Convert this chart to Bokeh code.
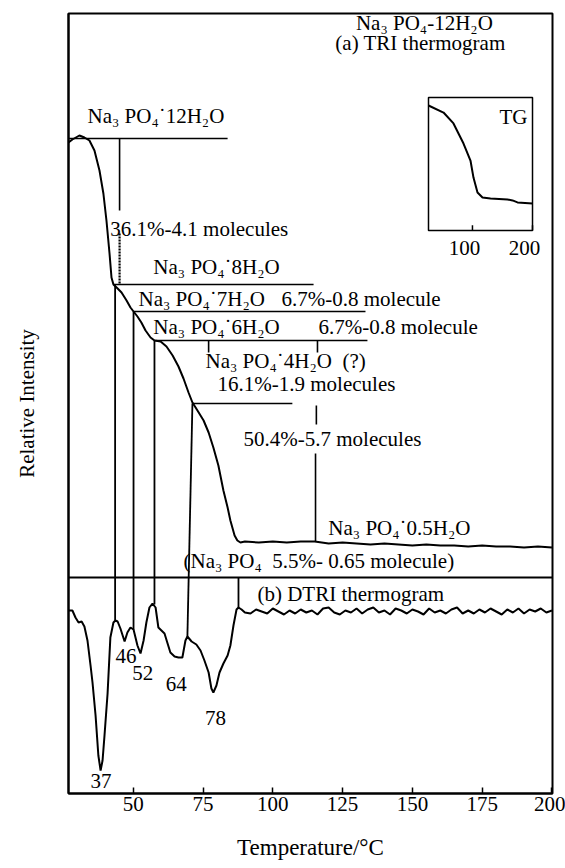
from bokeh.plotting import figure
from bokeh.models import Range1d, FixedTicker, Span
from bokeh.core.properties import value
from bokeh.embed import file_html
from bokeh.resources import INLINE

# ---------------- data ----------------
# (a) TRI thermogram
tri_temp = [26.8, 28.2, 30.7, 32.5, 34.3, 36.1, 37.9, 39.3, 40.4, 41.5, 42.2, 42.9,
            44.4, 45.8, 47.6, 49.0, 50.1, 51.5, 52.9, 54.4, 56.2, 57.6, 59.8, 61.9,
            64.1, 66.2, 68.0, 69.8, 71.2, 73.0, 75.2, 77.0, 78.7, 80.5, 82.3, 83.8,
            84.8, 86.3, 87.3, 88.4,
            90, 95, 100, 105, 110, 115, 120, 125, 130, 135, 140, 145, 150, 155, 160,
            165, 170, 175, 180, 185, 190, 195, 200]
tri_int = [651, 654, 658, 656, 653, 643, 623, 600, 573, 540, 516, 509,
           505, 501, 493, 486, 482, 477, 471, 463, 456, 453, 452, 447,
           438, 427, 415, 401, 391, 383, 373, 361, 346, 328, 303, 286,
           273, 258, 253, 251,
           252, 251, 252, 251, 252, 252, 250, 251, 250, 249, 250, 249, 248, 249, 248,
           248, 247, 248, 247, 247, 246, 247, 246]

# (b) DTRI thermogram
dtri_temp = [26.8, 28.2, 29.3, 30.4, 31.5, 32.5, 33.6, 34.7, 35.4, 36.5, 37.5, 38.3,
             39.0, 39.7, 40.8, 41.8, 42.9, 43.6, 44.4, 45.4, 46.9, 47.9, 49.0, 50.1,
             51.5, 52.6, 53.7, 54.7, 55.8, 56.9, 58.0, 59.0, 60.1, 61.2, 62.3, 63.3,
             64.8, 66.2, 67.6, 68.7, 69.4, 70.9, 72.6, 74.1, 75.5, 77.0, 78.0, 78.7,
             79.8, 80.9, 82.3, 83.8, 84.8, 85.9, 87.0, 87.7, 88.8,
             90, 92, 94, 96, 98, 100, 102, 104, 106, 108, 110, 112, 114, 116, 118,
             120, 122, 124, 126, 128, 130, 132, 134, 136, 138, 140, 142, 144, 146,
             148, 150, 152, 154, 156, 158, 160, 162, 164, 166, 168, 170, 172, 174,
             176, 178, 180, 182, 184, 186, 188, 190, 192, 194, 196, 198, 200]
dtri_int = [183, 183, 176, 171, 172, 167, 153, 128, 111, 78, 38, 23,
            33, 58, 100, 156, 171, 173, 172, 165, 152, 161, 166, 164,
            148, 140, 153, 171, 186, 190, 186, 166, 163, 160, 150, 141,
            137, 136, 136, 153, 157, 152, 149, 143, 133, 121, 105, 101,
            108, 121, 130, 138, 148, 168, 184, 186, 184,
            181, 180, 184, 182, 180, 185, 182, 179, 183, 180, 184, 181, 183, 179, 185,
            186, 181, 179, 183, 181, 185, 180, 184, 186, 181, 183, 179, 185, 183,
            180, 184, 182, 179, 185, 181, 183, 180, 184, 186, 180, 183, 180, 184,
            181, 185, 182, 179, 184, 181, 185, 180, 184, 182, 185, 181, 183]

# TG inset
tg_temp = [26.8, 51.8, 68.4, 85.1, 96.7, 101.7, 108.4, 116.7, 130.1, 158.4, 166.7, 175.0, 200.0]
tg_mass = [94.0, 88.7, 80.5, 65.4, 52.6, 39.8, 28.6, 24.8, 24.1, 23.3, 22.6, 21.1, 20.3]

x_ticks = [50, 75, 100, 125, 150, 175, 200]
tg_ticks = [100, 200]
tg_tick_labels = ["100", "200"]

# DTRI peak temperatures and label heights
peak_temps = [37, 46, 52, 64, 78]
peak_labels = ["37", "46", "52", "64", "78"]
peak_label_y = [13, 138, 121, 110, 76]

# hydrate stage lines (start T, end T, level)
stage_start = [26.8, 42.9, 50.1, 57.6, 71.2]
stage_end = [83.8, 114.6, 133.2, 133.9, 107.0]
stage_y = [655, 509, 482, 453, 390]

# drop lines from TRI steps to DTRI
drop_x0 = [43.5, 50.1, 57.6, 71.2, 87.7]
drop_y0 = [509, 482, 453, 390, 216]
drop_x1 = [43.5, 50.1, 57.6, 69.4, 87.7]
drop_y1 = [173, 164, 189, 157, 186]

# marker ticks
mark_x = [45.1, 77.0, 116.0, 115.6, 115.3]
mark_y0 = [655, 453, 453, 388, 340]
mark_y1 = [583, 441, 441, 369, 252]
dot_x = [45.1]
dot_y0 = [560]
dot_y1 = [509]

separator_y = 216

nb = "\u00a0"
ann_text = ["Na₃ PO₄˙12H₂O", "36.1%-4.1 molecules", "Na₃ PO₄˙8H₂O",
            "Na₃ PO₄˙7H₂O", "6.7%-0.8 molecule", "Na₃ PO₄˙6H₂O",
            "6.7%-0.8 molecule", "Na₃ PO₄˙4H₂O" + nb + nb + "(?)",
            "16.1%-1.9 molecules", "50.4%-5.7 molecules", "Na₃ PO₄˙0.5H₂O",
            "(Na₃ PO₄" + nb + nb + "5.5%- 0.65 molecule)", "(b) DTRI thermogram"]
ann_x = [33.6, 41.8, 57.2, 51.9, 103.1, 57.2, 116.4, 75.9, 80.2, 89.5, 119.9, 68.0, 94.5]
ann_y = [678, 565, 527, 495, 495, 467, 467, 433, 410, 355, 266, 233, 200]

title_text = ["Na₃ PO₄-12H₂O", "(a) TRI thermogram"]
title_x = [154.3, 152.9]
title_y = [771, 751]

# ---------------- figure ----------------
FONT = value("Liberation Serif")
FS = "21px"

p = figure(width=565, height=868, output_backend="svg", toolbar_location=None,
           x_range=Range1d(26.8, 200.2), y_range=Range1d(0, 780),
           min_border_left=68, min_border_right=13, min_border_top=13, min_border_bottom=75)
p.xgrid.visible = False
p.ygrid.visible = False
p.outline_line_color = "black"
p.outline_line_width = 2
p.background_fill_color = "white"
p.border_fill_color = "white"


def inset_range(lo, hi, f0, f1):
    span = (hi - lo) / (f1 - f0)
    start = lo - f0 * span
    return Range1d(start, start + span)


p.extra_x_ranges = {"tg_x": inset_range(26.8, 200.0, 0.7438, 0.9587)}
p.extra_y_ranges = {"tg_y": inset_range(0, 100, 0.7218, 0.8923)}

# axes
xa = p.xaxis[0]
xa.ticker = FixedTicker(ticks=x_ticks)
xa.minor_tick_line_color = None
xa.major_tick_in = 6
xa.major_tick_out = 0
xa.major_tick_line_width = 1.5
xa.axis_line_width = 2
xa.major_label_standoff = 3
xa.major_label_text_font = "Liberation Serif"
xa.major_label_text_font_size = FS
xa.major_label_text_color = "black"
xa.axis_label = "Temperature/°C"
xa.axis_label_text_font = "Liberation Serif"
xa.axis_label_text_font_size = "23px"
xa.axis_label_text_font_style = "normal"
xa.axis_label_text_color = "black"
xa.axis_label_standoff = 21

ya = p.yaxis[0]
ya.ticker = FixedTicker(ticks=[])
ya.minor_tick_line_color = None
ya.major_tick_in = 0
ya.major_tick_out = 0
ya.major_label_standoff = 0
ya.axis_line_width = 2
ya.axis_label = "Relative Intensity"
ya.axis_label_text_font = "Liberation Serif"
ya.axis_label_text_font_size = FS
ya.axis_label_text_font_style = "normal"
ya.axis_label_text_color = "black"
ya.axis_label_standoff = 30

# curves
p.line(tri_temp, tri_int, line_color="black", line_width=2)
p.line(dtri_temp, dtri_int, line_color="black", line_width=2)

# separator
p.add_layout(Span(location=separator_y, dimension="width", line_color="black", line_width=2))

# stage lines
p.segment(x0=stage_start, y0=stage_y, x1=stage_end, y1=stage_y, line_color="black", line_width=1.6)
# drop lines
p.segment(x0=drop_x0, y0=drop_y0, x1=drop_x1, y1=drop_y1, line_color="black", line_width=1.8)
# marker ticks
p.segment(x0=mark_x, y0=mark_y0, x1=mark_x, y1=mark_y1, line_color="black", line_width=1.6)
p.segment(x0=dot_x, y0=dot_y0, x1=dot_x, y1=dot_y1, line_color="black", line_width=2.2,
          line_dash="2 1")

# annotations
p.text(x=ann_x, y=ann_y, text=ann_text, text_font=FONT, text_font_size=FS,
       text_align="left", text_baseline="middle", text_color="black")
p.text(x=title_x, y=title_y, text=title_text, text_font=FONT, text_font_size=FS,
       text_align="center", text_baseline="middle", text_color="black")
p.text(x=peak_temps, y=peak_label_y, text=peak_labels, text_font=FONT, text_font_size=FS,
       text_align="center", text_baseline="middle", text_color="black", x_offset=4)

# TG inset
p.quad(left=[26.8], right=[200.0], bottom=[0], top=[100], fill_color=None,
       line_color="black", line_width=1.5, x_range_name="tg_x", y_range_name="tg_y")
p.line(tg_temp, tg_mass, line_color="black", line_width=2,
       x_range_name="tg_x", y_range_name="tg_y")
p.segment(x0=tg_ticks, y0=[0, 0], x1=tg_ticks, y1=[4, 4], line_color="black",
          line_width=1.5, x_range_name="tg_x", y_range_name="tg_y")
p.text(x=tg_ticks, y=[-13.5, -13.5], text=tg_tick_labels, text_font=FONT, text_font_size=FS,
       text_align="center", text_baseline="middle", text_color="black", x_offset=-8,
       x_range_name="tg_x", y_range_name="tg_y")
p.text(x=[168.4], y=[85], text=["TG"], text_font=FONT, text_font_size=FS,
       text_align="center", text_baseline="middle", text_color="black",
       x_range_name="tg_x", y_range_name="tg_y")

open("out.html", "w").write(file_html(p, INLINE))
